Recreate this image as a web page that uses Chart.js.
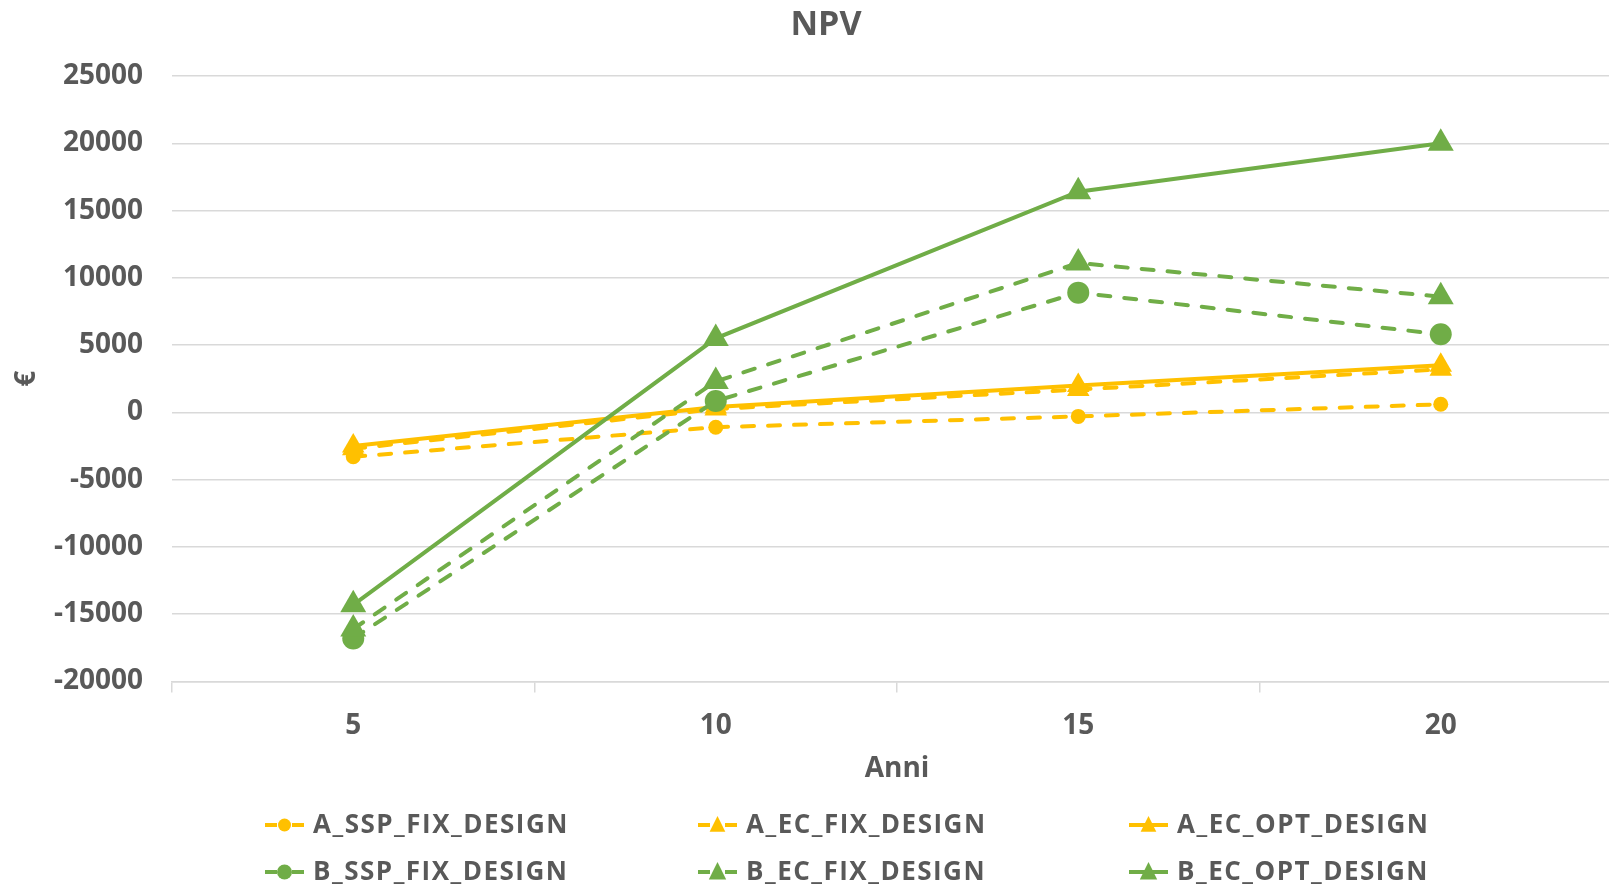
<!DOCTYPE html>
<html>
<head>
<meta charset="utf-8">
<script src="https://cdn.jsdelivr.net/npm/chart.js@4/dist/chart.umd.min.js"></script>
<style>
  html, body { margin: 0; padding: 0; background: #ffffff; overflow: hidden; }
  #wrap { width: 1609px; height: 886px; overflow: hidden; position: relative; }
  canvas { display: block; }
</style>
</head>
<body>
<div id="wrap"><canvas id="c" width="1652" height="886"></canvas></div>
<script>
const chartTitle = 'NPV';
const categories = ['5', '10', '15', '20'];
const seriesNames = ['A_SSP_FIX_DESIGN', 'A_EC_FIX_DESIGN', 'A_EC_OPT_DESIGN', 'B_SSP_FIX_DESIGN', 'B_EC_FIX_DESIGN', 'B_EC_OPT_DESIGN'];
const A_SSP_FIX_DESIGN = [-3300, -1100, -300, 600];
const A_EC_FIX_DESIGN  = [-2700, 250, 1700, 3200];
const A_EC_OPT_DESIGN  = [-2500, 400, 2000, 3500];
const B_SSP_FIX_DESIGN = [-16800, 850, 8900, 5800];
const B_EC_FIX_DESIGN  = [-16100, 2300, 11100, 8600];
const B_EC_OPT_DESIGN  = [-14300, 5500, 16400, 20000];
const yTicks = [-20000, -15000, -10000, -5000, 0, 5000, 10000, 15000, 20000, 25000];

const YELLOW = '#FFC000';
const GREEN = '#70AD47';
const TEXT = '#595959';
const GRID = '#D9D9D9';
const FONT = "'Open Sans', 'Liberation Sans', sans-serif";

function ds(label, data, color, dashed, style, radius, idx) {
  return {
    label, data,
    borderColor: color, backgroundColor: color,
    pointBackgroundColor: color, pointBorderColor: color,
    borderWidth: 4,
    borderDash: dashed ? [12, 14] : [],
    borderCapStyle: 'round',
    pointStyle: style,
    pointRadius: radius,
    pointHoverRadius: radius,
    pointBorderWidth: 0,
    tension: 0,
    fill: false,
    order: 10 - idx,
    _dashed: dashed
  };
}

const datasets = [
  ds(seriesNames[0], A_SSP_FIX_DESIGN, YELLOW, true, 'circle', 7.5, 0),
  ds(seriesNames[1], A_EC_FIX_DESIGN, YELLOW, true, 'triangle', 13, 1),
  ds(seriesNames[2], A_EC_OPT_DESIGN, YELLOW, false, 'triangle', 13, 2),
  ds(seriesNames[3], B_SSP_FIX_DESIGN, GREEN, true, 'circle', 11, 3),
  ds(seriesNames[4], B_EC_FIX_DESIGN, GREEN, true, 'triangle', 15, 4),
  ds(seriesNames[5], B_EC_OPT_DESIGN, GREEN, false, 'triangle', 15, 5)
];

const titlePlugin = {
  id: 'wideTitle',
  afterDraw(chart) {
    const ctx = chart.ctx;
    ctx.save();
    ctx.fillStyle = TEXT;
    ctx.font = "bold 34px " + FONT;
    ctx.textAlign = 'center';
    ctx.textBaseline = 'middle';
    ctx.fillText(chartTitle, chart.width / 2, 25);
    ctx.restore();
  }
};

const legendPlugin = {
  id: 'gridLegend',
  afterDraw(chart) {
    const ctx = chart.ctx;
    const colX = [265, 698, 1129];
    const rowY = [825, 872];
    chart.data.datasets.forEach((d, i) => {
      const x = colX[i % 3];
      const y = rowY[Math.floor(i / 3)];
      const c = d.borderColor;
      ctx.save();
      ctx.strokeStyle = c;
      ctx.fillStyle = c;
      ctx.lineWidth = 4;
      ctx.lineCap = 'butt';
      if (d._dashed) {
        ctx.beginPath();
        ctx.moveTo(x, y); ctx.lineTo(x + 12, y);
        ctx.moveTo(x + 27, y); ctx.lineTo(x + 39, y);
        ctx.stroke();
      } else {
        ctx.beginPath();
        ctx.moveTo(x, y); ctx.lineTo(x + 39, y);
        ctx.stroke();
      }
      const cx = x + 19.5;
      ctx.beginPath();
      if (d.pointStyle === 'circle') {
        const r = i < 3 ? 6.5 : 7.5;
        ctx.arc(cx, y, r, 0, Math.PI * 2);
      } else {
        const r = i < 3 ? 9 : 10;
        ctx.moveTo(cx, y - r);
        ctx.lineTo(cx + r * 0.87, y + r * 0.75);
        ctx.lineTo(cx - r * 0.87, y + r * 0.75);
        ctx.closePath();
      }
      ctx.fill();
      ctx.fillStyle = TEXT;
      ctx.font = "bold 26px " + FONT;
      try { ctx.letterSpacing = '1.5px'; } catch (e) {}
      ctx.textBaseline = 'middle';
      ctx.textAlign = 'left';
      ctx.fillText(d.label, x + 48, y + 1);
      ctx.restore();
    });
  }
};

new Chart(document.getElementById('c'), {
  type: 'line',
  data: { labels: categories, datasets },
  plugins: [legendPlugin, titlePlugin],
  options: {
    responsive: false,
    animation: false,
    devicePixelRatio: 1,
    layout: { padding: { left: 0, right: 30, top: 76, bottom: 100 } },
    plugins: {
      legend: { display: false },
      tooltip: { enabled: false },
      title: { display: false }
    },
    scales: {
      x: {
        type: 'category',
        offset: true,
        grid: {
          offset: true,
          drawOnChartArea: false,
          drawTicks: true,
          tickLength: 11,
          color: GRID,
          lineWidth: 1.5
        },
        border: { display: true, color: GRID, width: 1.5 },
        ticks: {
          color: TEXT,
          font: { family: FONT, size: 28, weight: 'bold' },
          padding: 17,
          maxRotation: 0
        },
        title: {
          display: true,
          text: 'Anni',
          color: TEXT,
          font: { family: FONT, size: 28, weight: 'bold' },
          padding: { top: 0, bottom: 0 }
        },
        afterFit(s) { s.height = 104.5; }
      },
      y: {
        min: -20000,
        max: 25000,
        afterBuildTicks(s) { s.ticks = yTicks.map(v => ({ value: v })); },
        grid: { color: GRID, lineWidth: 1.5, drawTicks: false },
        border: { display: false },
        ticks: {
          color: TEXT,
          font: { family: FONT, size: 28, weight: 'bold' },
          padding: 29,
          callback: (v) => String(v)
        },
        title: {
          display: true,
          text: '€',
          color: TEXT,
          font: { family: FONT, size: 28, weight: 'bold' },
          padding: { top: 10, bottom: 0 }
        },
        afterFit(s) { s.width = 172; }
      }
    }
  }
});
</script>
</body>
</html>
